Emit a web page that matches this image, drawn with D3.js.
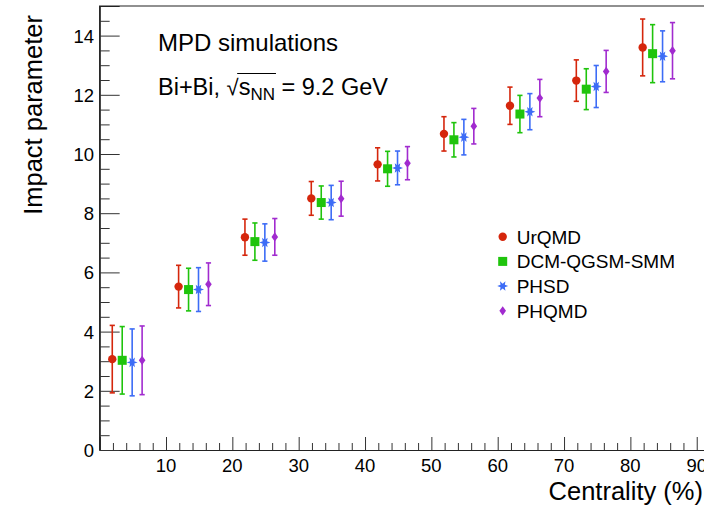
<!DOCTYPE html>
<html>
<head>
<meta charset="utf-8">
<script src="https://cdn.jsdelivr.net/npm/d3@7"></script>
<style>
  body { margin: 0; background: #fff; }
  text { font-family: "Liberation Sans", Arial, sans-serif; fill: #000; }
</style>
</head>
<body>
<div id="chart"></div>
<script>
const W = 704, H = 510;

// tick values
const xMajor = [10, 20, 30, 40, 50, 60, 70, 80, 90];
const yMajor = [0, 2, 4, 6, 8, 10, 12, 14];

// centrality positions per model
const urqmdX = [1.9, 11.9, 21.9, 31.9, 41.9, 51.9, 61.85, 71.85, 81.85];
const dcmX   = [3.4, 13.4, 23.4, 33.4, 43.4, 53.4, 63.35, 73.35, 83.35];
const phsdX  = [4.9, 14.9, 24.9, 34.9, 44.9, 54.9, 64.85, 74.85, 84.85];
const phqmdX = [6.4, 16.4, 26.4, 36.4, 46.4, 56.4, 66.35, 76.35, 86.35];

// impact parameter and its spread
const urqmd    = [3.07, 5.52, 7.19, 8.50, 9.65, 10.68, 11.63, 12.48, 13.60];
const urqmdErr = [1.14, 0.72, 0.61, 0.57, 0.56, 0.58, 0.63, 0.70, 0.96];
const dcm      = [3.03, 5.42, 7.04, 8.36, 9.50, 10.48, 11.35, 12.19, 13.39];
const dcmErr   = [1.14, 0.72, 0.63, 0.56, 0.59, 0.58, 0.63, 0.69, 0.98];
const phsd     = [2.96, 5.42, 7.01, 8.36, 9.53, 10.57, 11.43, 12.28, 13.30];
const phsdErr  = [1.13, 0.74, 0.63, 0.58, 0.57, 0.60, 0.61, 0.71, 0.86];
const phqmd    = [3.03, 5.60, 7.20, 8.49, 9.69, 10.94, 11.89, 12.79, 13.49];
const phqmdErr = [1.16, 0.72, 0.62, 0.59, 0.56, 0.60, 0.63, 0.71, 0.95];

const models = [
  { name: "UrQMD",         x: urqmdX, y: urqmd, err: urqmdErr, color: "#d5260c", shape: "circle" },
  { name: "DCM-QGSM-SMM",  x: dcmX,   y: dcm,   err: dcmErr,   color: "#1fc40c", shape: "square" },
  { name: "PHSD",          x: phsdX,  y: phsd,  err: phsdErr,  color: "#3d6cf6", shape: "star" },
  { name: "PHQMD",         x: phqmdX, y: phqmd, err: phqmdErr, color: "#a12bcf", shape: "diamond" }
];

const xScale = d3.scaleLinear().domain([0, 91.5]).range([99.66, 99.66 + 91.5 * 6.634]);
const yScale = d3.scaleLinear().domain([0, 15]).range([450, 6]);

const svg = d3.select("#chart").append("svg")
  .attr("width", W).attr("height", H);

// frame
const x0 = xScale(0), x1 = xScale(91.5), yb = yScale(0), yt = yScale(15);
svg.append("path")
  .attr("d", `M${x0},${yb}V${yt}H${x1}`)
  .attr("fill", "none").attr("stroke", "#222").attr("stroke-width", 1.2);

// x axis, ticks drawn inward
const xAxis = d3.axisTop(xScale)
  .tickValues(xMajor).tickSize(13).tickFormat("");
svg.append("g").attr("transform", `translate(0,${yb})`).call(xAxis)
  .call(g => g.select(".domain").attr("stroke", "#222").attr("stroke-width", 1.2));
svg.append("g").attr("transform", `translate(0,${yb})`)
  .call(d3.axisTop(xScale).tickValues(d3.range(2, 92, 2).filter(v => v % 10)).tickSize(7).tickFormat(""))
  .call(g => g.select(".domain").remove());
svg.append("g").selectAll("text").data(xMajor).join("text")
  .attr("x", d => xScale(d)).attr("y", 472)
  .attr("text-anchor", "middle").attr("font-size", 18.5)
  .text(d => d);

// y axis
svg.append("g").attr("transform", `translate(${x0},0)`)
  .call(d3.axisRight(yScale).tickValues(yMajor).tickSize(20).tickFormat(""))
  .call(g => g.select(".domain").attr("stroke", "#222").attr("stroke-width", 1.2));
svg.append("g").attr("transform", `translate(${x0},0)`)
  .call(d3.axisRight(yScale).tickValues(d3.range(0.5, 15, 0.5).filter(v => v % 2)).tickSize(10).tickFormat(""))
  .call(g => g.select(".domain").remove());
svg.append("g").selectAll("text").data(yMajor).join("text")
  .attr("x", 94).attr("y", d => yScale(d) + 7)
  .attr("text-anchor", "end").attr("font-size", 18.5)
  .text(d => d);

svg.selectAll(".tick line").attr("stroke", "#333");

// axis titles
svg.append("text").attr("x", 703).attr("y", 500)
  .attr("text-anchor", "end").attr("font-size", 25.5).text("Centrality (%)");
svg.append("text").attr("transform", "translate(42,15) rotate(-90)")
  .attr("text-anchor", "end").attr("font-size", 25.5).text("Impact parameter");

// labels
svg.append("text").attr("x", 158).attr("y", 51).attr("font-size", 24).text("MPD simulations");
const t2 = svg.append("text").attr("x", 158).attr("y", 95).attr("font-size", 23.5);
t2.append("tspan").text("Bi+Bi, ");
t2.append("tspan").attr("font-size", 22).text("\u221A");
t2.append("tspan").text("s");
t2.append("tspan").attr("font-size", 17).attr("dy", 5).text("NN");
t2.append("tspan").attr("dy", -5).text(" = 9.2 GeV");
{
  const node = t2.node();
  const sq = node.getExtentOfChar(7);
  const nn = node.getExtentOfChar(10);
  svg.append("line")
    .attr("x1", sq.x + sq.width - 1.5).attr("x2", nn.x + nn.width + 1)
    .attr("y1", 73.5).attr("y2", 73.5)
    .attr("stroke", "#000").attr("stroke-width", 1.2);
}

// marker shapes
function starPath(r) {
  const pts = [];
  for (let i = 0; i < 12; i++) {
    const a = i * Math.PI / 6;
    const rr = i % 2 ? r * 0.45 : r;
    pts.push([rr * Math.cos(a), rr * Math.sin(a)]);
  }
  return "M" + pts.map(p => p.join(",")).join("L") + "Z";
}
function marker(g, shape, color) {
  if (shape === "circle") g.append("circle").attr("r", 4.2).attr("fill", color);
  else if (shape === "square") g.append("rect").attr("x", -4.5).attr("y", -4.5).attr("width", 9).attr("height", 9).attr("fill", color);
  else if (shape === "star") g.append("path").attr("d", starPath(5.5)).attr("fill", color);
  else g.append("path").attr("d", "M0,-4.6L3.3,0L0,4.6L-3.3,0Z").attr("fill", color);
}

// points with error bars
models.forEach(m => {
  const pts = m.y.map((v, i) => ({ x: m.x[i], y: v, e: m.err[i] }));
  const g = svg.append("g");
  const pg = g.selectAll("g").data(pts).join("g");
  pg.append("line")
    .attr("x1", d => xScale(d.x)).attr("x2", d => xScale(d.x))
    .attr("y1", d => yScale(d.y - d.e)).attr("y2", d => yScale(d.y + d.e))
    .attr("stroke", m.color).attr("stroke-width", 1.6);
  [-1, 1].forEach(s => {
    pg.append("line")
      .attr("x1", d => xScale(d.x) - 2.6).attr("x2", d => xScale(d.x) + 2.6)
      .attr("y1", d => yScale(d.y + s * d.e)).attr("y2", d => yScale(d.y + s * d.e))
      .attr("stroke", m.color).attr("stroke-width", 1.6);
  });
  pg.each(function(d) {
    const mg = d3.select(this).append("g")
      .attr("transform", `translate(${xScale(d.x)},${yScale(d.y)})`);
    marker(mg, m.shape, m.color);
  });
});

// legend
const leg = svg.append("g").selectAll("g").data(models).join("g")
  .attr("transform", (d, i) => `translate(502.7,${236.7 + i * 24.7})`);
leg.each(function(d) { marker(d3.select(this), d.shape, d.color); });
leg.append("text").attr("x", 14).attr("y", 7).attr("font-size", 19).text(d => d.name);
</script>
</body>
</html>
